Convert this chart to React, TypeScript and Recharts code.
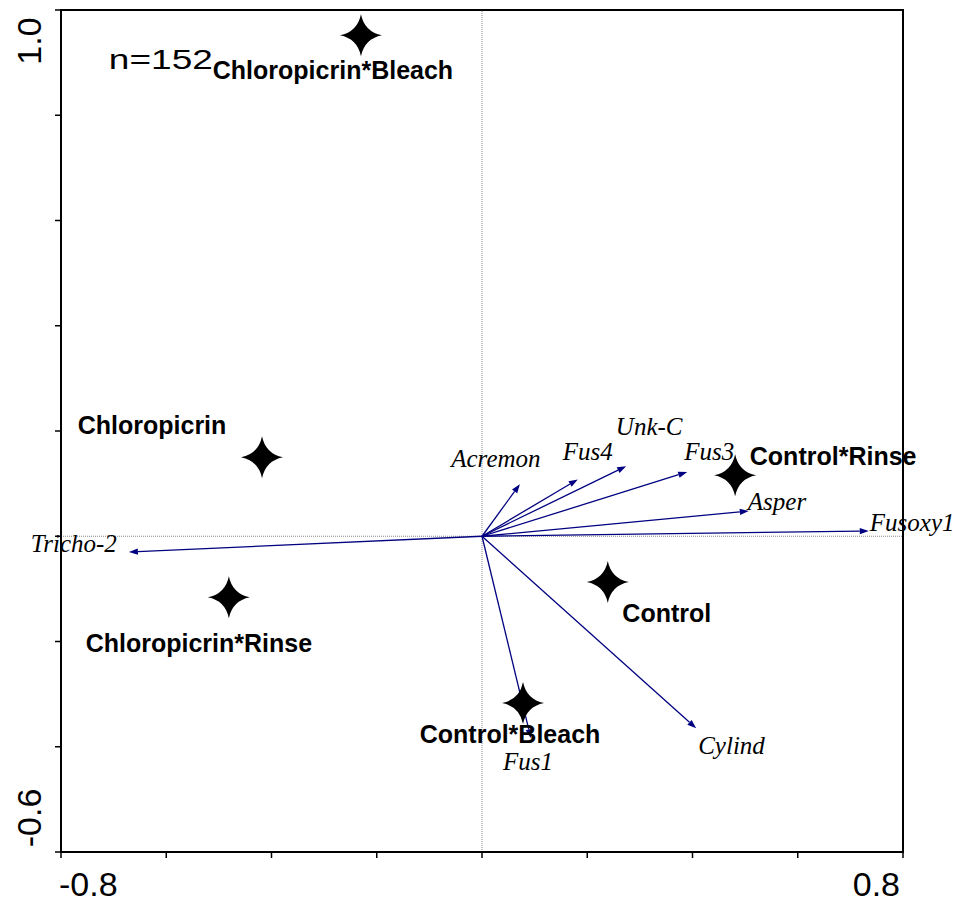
import {
    ReferenceArea,
    ReferenceDot,
    ReferenceLine,
    Scatter,
    ScatterChart,
    XAxis,
    YAxis,
} from "recharts";

// treatment centroids (stars)
const treatments = [
    "Chloropicrin*Bleach",
    "Chloropicrin",
    "Chloropicrin*Rinse",
    "Control*Rinse",
    "Control",
    "Control*Bleach",
];
const treatmentX = [-0.23, -0.418, -0.481, 0.481, 0.239, 0.078];
const treatmentY = [0.952, 0.15, -0.116, 0.116, -0.087, -0.317];

// species arrows (tips)
const species = ["Tricho-2", "Acremon", "Fus4", "Unk-C", "Fus3", "Asper", "Fusoxy1", "Cylind", "Fus1"];
const speciesX = [-0.671, 0.072, 0.182, 0.274, 0.39, 0.507, 0.735, 0.407, 0.093];
const speciesY = [-0.03, 0.099, 0.108, 0.133, 0.122, 0.048, 0.01, -0.365, -0.384];

const xTicks = [-0.8, -0.6, -0.4, -0.2, 0, 0.2, 0.4, 0.6, 0.8];
const yTicks = [-0.6, -0.4, -0.2, 0, 0.2, 0.4, 0.6, 0.8, 1.0];
const xTickLabels = ["-0.8", "0.8"];
const yTickLabels = ["-0.6", "1.0"];
const sampleNote = "n=152";

// label placement, px from the mark
const treatmentLabelPos: Record<string, [number, number]> = {
    "Chloropicrin*Bleach": [-28, 44],
    Chloropicrin: [-110, -23],
    "Chloropicrin*Rinse": [-30, 55],
    "Control*Rinse": [98, -10],
    Control: [59, 40],
    "Control*Bleach": [-13, 40],
};
const speciesLabelPos: Record<string, [string, number, number]> = {
    "Tricho-2": ["end", -12, 0],
    Acremon: ["middle", -24, -17],
    Fus4: ["middle", 10, -19],
    "Unk-C": ["middle", 23, -31],
    Fus3: ["middle", 22, -12],
    Asper: ["start", -1, -1],
    Fusoxy1: ["start", 1, 0],
    Cylind: ["start", 2, 26],
    Fus1: ["middle", -3, 32],
};

const ARROW = "#000080";
const SANS = "'Liberation Sans', Arial, sans-serif";
const SERIF = "'Liberation Serif', 'Times New Roman', serif";

const starData = treatments.map((name, i) => ({ name, x: treatmentX[i], y: treatmentY[i] }));

function Star(props: any) {
    const { cx, cy, payload } = props;
    const r = 21;
    const c = 3.5;
    const d =
        `M0,${-r} Q${c},${-c} ${r},0 Q${c},${c} 0,${r} ` +
        `Q${-c},${c} ${-r},0 Q${-c},${-c} 0,${-r} Z`;
    const [dx, dy] = treatmentLabelPos[payload.name] ?? [0, 30];
    return (
        <g>
            <path d={d} transform={`translate(${cx},${cy})`} fill="#000" />
            <text
                x={cx + dx}
                y={cy + dy}
                textAnchor="middle"
                fontFamily={SANS}
                fontWeight="bold"
                fontSize={25}
                fill="#000"
            >
                {payload.name}
            </text>
        </g>
    );
}

function arrowShape(name: string) {
    return (p: any) => {
        const { x1, y1, x2, y2 } = p;
        const a = Math.atan2(y2 - y1, x2 - x1);
        const L = 9;
        const W = 3.2;
        const bx = x2 - L * Math.cos(a);
        const by = y2 - L * Math.sin(a);
        const px = -Math.sin(a) * W;
        const py = Math.cos(a) * W;
        const [anchor, dx, dy] = speciesLabelPos[name] ?? ["start", 4, 0];
        return (
            <g>
                <line x1={x1} y1={y1} x2={bx} y2={by} stroke={ARROW} strokeWidth={1.3} />
                <polygon
                    points={`${x2},${y2} ${bx + px},${by + py} ${bx - px},${by - py}`}
                    fill={ARROW}
                />
                <text
                    x={x2 + dx}
                    y={y2 + dy}
                    textAnchor={anchor as any}
                    fontFamily={SERIF}
                    fontStyle="italic"
                    fontSize={25}
                    fill="#000"
                >
                    {name}
                </text>
            </g>
        );
    };
}

function XTick(props: any) {
    const { x, y, payload } = props;
    if (payload.value === -0.8) {
        return (
            <text x={x - 2} y={y + 36} textAnchor="start" fontFamily={SANS} fontSize={34} fill="#000">
                {xTickLabels[0]}
            </text>
        );
    }
    if (payload.value === 0.8) {
        return (
            <text x={x - 3} y={y + 36} textAnchor="end" fontFamily={SANS} fontSize={34} fill="#000">
                {xTickLabels[1]}
            </text>
        );
    }
    return <g />;
}

function YTick(props: any) {
    const { y, payload } = props;
    const bx = 41;
    let label = "";
    let cy = y;
    if (payload.value === -0.6) {
        label = yTickLabels[0];
        cy = y - 34;
    } else if (payload.value === 1.0) {
        label = yTickLabels[1];
        cy = y + 31;
    } else {
        return <g />;
    }
    return (
        <text
            x={bx}
            y={cy}
            transform={`rotate(-90, ${bx}, ${cy})`}
            textAnchor="middle"
            fontFamily={SANS}
            fontSize={34}
            fill="#000"
        >
            {label}
        </text>
    );
}

export default function App() {
    return (
        <div style={{ width: 956, height: 903, background: "#fff" }}>
            <style>{"body{margin:0;overflow:hidden}"}</style>
            <ScatterChart width={956} height={903} margin={{ top: 10, right: 53, bottom: 0, left: 0 }}>
                <XAxis
                    type="number"
                    dataKey="x"
                    domain={[-0.8, 0.8]}
                    ticks={xTicks}
                    interval={0}
                    height={51}
                    axisLine={{ stroke: "#000", strokeWidth: 2 }}
                    tickLine={{ stroke: "#000", strokeWidth: 1.5 }}
                    tickSize={6}
                    tick={<XTick />}
                />
                <YAxis
                    type="number"
                    dataKey="y"
                    domain={[-0.6, 1.0]}
                    ticks={yTicks}
                    interval={0}
                    width={61}
                    axisLine={{ stroke: "#000", strokeWidth: 2 }}
                    tickLine={{ stroke: "#000", strokeWidth: 1.5 }}
                    tickSize={6}
                    tick={<YTick />}
                />
                <ReferenceArea
                    x1={-0.8}
                    x2={0.8}
                    y1={-0.6}
                    y2={1.0}
                    fill="none"
                    fillOpacity={0}
                    stroke="#000"
                    strokeWidth={2}
                />
                <ReferenceLine x={0} stroke="#888" strokeDasharray="1 1" strokeWidth={1} />
                <ReferenceLine y={0} stroke="#888" strokeDasharray="1 1" strokeWidth={1} />
                {species.map((name, i) => (
                    <ReferenceLine
                        key={name}
                        segment={[
                            { x: 0, y: 0 },
                            { x: speciesX[i], y: speciesY[i] },
                        ]}
                        shape={arrowShape(name)}
                    />
                ))}
                <ReferenceDot
                    x={-0.709}
                    y={0.887}
                    r={0}
                    shape={(p: any) => (
                        <text
                            x={p.cx}
                            y={p.cy}
                            fontFamily={SANS}
                            fontSize={28}
                            textLength={104}
                            lengthAdjust="spacingAndGlyphs"
                            fill="#000"
                        >
                            {sampleNote}
                        </text>
                    )}
                />
                <Scatter data={starData} shape={<Star />} isAnimationActive={false} />
            </ScatterChart>
        </div>
    );
}
